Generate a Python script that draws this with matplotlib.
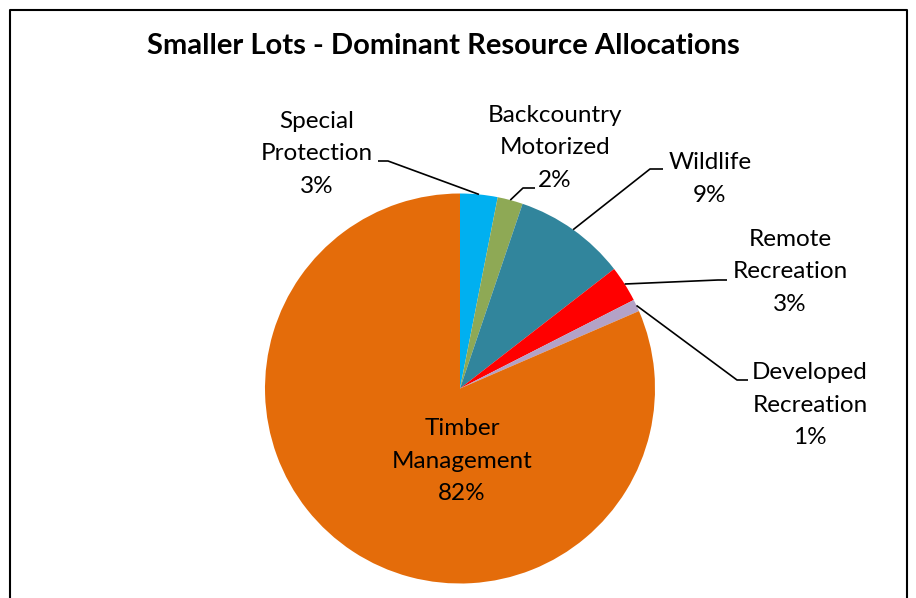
import numpy as np
import matplotlib.pyplot as plt

W, H = 916, 598

categories = ['Special\nProtection', 'Backcountry\nMotorized', 'Wildlife',
              'Remote\nRecreation', 'Developed\nRecreation', 'Timber\nManagement']
values = [3.1, 2.1, 9.3, 3.0, 1.0, 81.5]
pct_labels = ['3%', '2%', '9%', '3%', '1%', '82%']
colors = ['#00B0F0', '#8EA955', '#31859C', '#FF0000', '#B3A2C7', '#E46C0A']

# label layout in pixel coords (text centre, elbow, line end)
label_pos = [(317, 154), (555, 148), (710, 179), (790, 272), (810, 405), (462, 461)]
leader_elbow = [(388, 161), (523, 188), (650, 169), (718, 280), (737, 380), None]
leader_end = [(378, 161), (535, 188), (663, 169), (727, 280), (748, 380), None]

plt.rcParams['font.family'] = ['Lato', 'DejaVu Sans']
FONT_SIZE = 17.5

fig = plt.figure(figsize=(W / 100, H / 100), dpi=100)
ax = fig.add_axes([0, 0, 1, 1])

def py(y):
    return H - y

cx, cy, r = 460, 388.5, 195
wedges, _ = ax.pie(values, colors=colors, startangle=90, counterclock=False,
                   center=(cx, py(cy)), radius=r, frame=True,
                   wedgeprops=dict(linewidth=0))
ax.set_xlim(0, W)
ax.set_ylim(0, H)
ax.set_aspect('equal')
ax.axis('off')

for i, w in enumerate(wedges):
    x, y = label_pos[i]
    ax.text(x, py(y), categories[i] + '\n' + pct_labels[i], ha='center', va='center',
            fontsize=FONT_SIZE, linespacing=1.67)
    if leader_elbow[i] is None:
        continue
    ang = np.deg2rad((w.theta1 + w.theta2) / 2)
    ax_, ay_ = cx + r * np.cos(ang), py(cy) + r * np.sin(ang)
    ex, ey = leader_elbow[i]
    fx, fy = leader_end[i]
    ax.plot([ax_, ex, fx], [ay_, py(ey), py(fy)], color='black', lw=1.2,
            solid_capstyle='butt')

ax.text(443, py(46), 'Smaller Lots - Dominant Resource Allocations', ha='center',
        va='center', fontsize=21, fontweight='bold')

# chart border
ax.plot([10, 10, 907, 907], [0, py(10), py(10), 0], color='black', lw=1.5)

fig.savefig('out.png', dpi=100)
